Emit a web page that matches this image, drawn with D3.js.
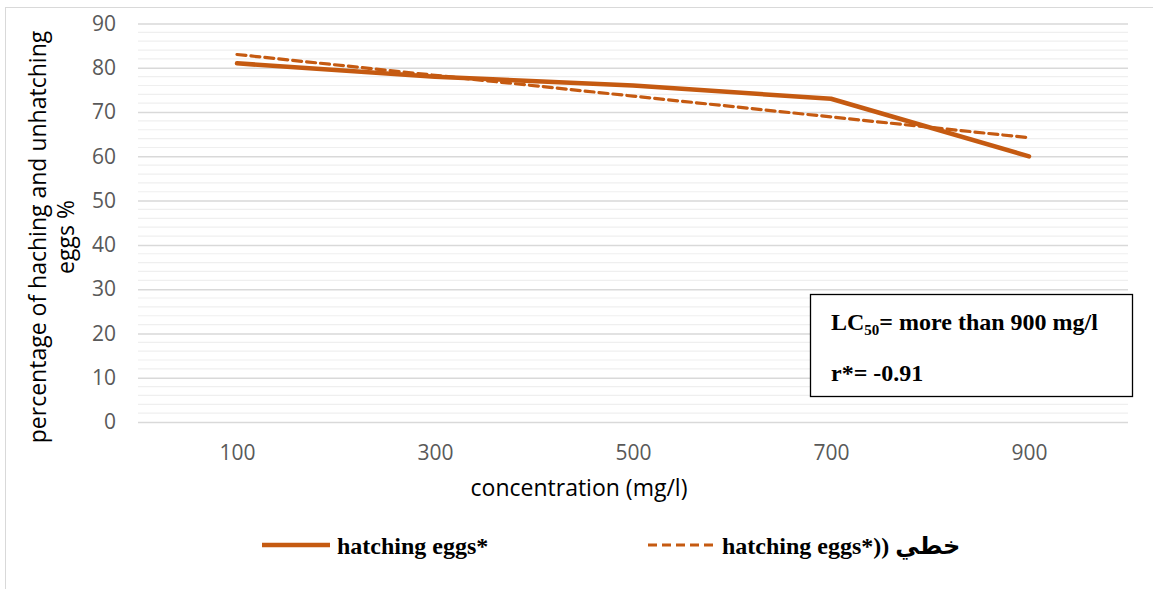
<!DOCTYPE html>
<html>
<head>
<meta charset="utf-8">
<script src="https://cdn.jsdelivr.net/npm/d3@7"></script>
<style>
  html, body { margin: 0; padding: 0; background: #fff; }
  svg { display: block; }
</style>
</head>
<body>
<svg id="chart" width="1153" height="589"></svg>
<script>
// ---- data ----
const categories = ["100", "300", "500", "700", "900"];
const hatchingEggs = [81, 78, 76, 73, 60];
const yTicks = [0, 10, 20, 30, 40, 50, 60, 70, 80, 90];
const seriesNames = ["hatching eggs*", "hatching eggs*)) خطي"];
const annotationLines = ["LC", "50", "= more than 900 mg/l", "r*= -0.91"];

// linear trend line (least squares over category index)
const xs = hatchingEggs.map((d, i) => i + 1);
const mx = d3.mean(xs), my = d3.mean(hatchingEggs);
const slope = d3.sum(xs.map((x, i) => (x - mx) * (hatchingEggs[i] - my))) /
              d3.sum(xs.map(x => (x - mx) * (x - mx)));
const intercept = my - slope * mx;
const trend = xs.map(x => intercept + slope * x);

const color = "#C55A11";
const svg = d3.select("#chart");

// outer border
svg.append("rect").attr("x", 5.5).attr("y", 7.5).attr("width", 1160).attr("height", 600)
  .attr("fill", "none").attr("stroke", "#d9d9d9").attr("stroke-width", 1);

const x = d3.scalePoint().domain(categories).range([138, 1128]).padding(0.5);
const y = d3.scaleLinear().domain([0, 90]).range([422, 23.5]);

// minor gridlines
const minor = d3.range(0, 91, 2).filter(v => v % 10 !== 0);
svg.append("g").selectAll("line").data(minor).join("line")
  .attr("x1", 138).attr("x2", 1128)
  .attr("y1", d => y(d)).attr("y2", d => y(d))
  .attr("stroke", "#efefef").attr("stroke-width", 1.2);

// y axis with major gridlines
const yAxis = d3.axisLeft(y).tickValues(yTicks).tickSize(-990).tickPadding(22);
const gy = svg.append("g").attr("transform", "translate(138,0)").call(yAxis);
gy.select(".domain").remove();
gy.selectAll(".tick line").attr("stroke", "#d9d9d9").attr("stroke-width", 1.5);
gy.selectAll(".tick text").attr("fill", "#595959")
  .style("font-family", "'Open Sans', sans-serif").style("font-size", "21px");

// x axis
const xAxis = d3.axisBottom(x).tickSize(0).tickPadding(23);
const gx = svg.append("g").attr("transform", "translate(0,422)").call(xAxis);
gx.select(".domain").remove();
gx.selectAll(".tick text").attr("fill", "#595959")
  .style("font-family", "'Open Sans', sans-serif").style("font-size", "21px");

// lines
const line = d3.line().x((d, i) => x(categories[i])).y(d => y(d));
svg.append("path").datum(trend).attr("d", line)
  .attr("fill", "none").attr("stroke", color).attr("stroke-width", 3.2)
  .attr("stroke-dasharray", "9,5").attr("stroke-linecap", "round");
svg.append("path").datum(hatchingEggs).attr("d", line)
  .attr("fill", "none").attr("stroke", color).attr("stroke-width", 4.5)
  .attr("stroke-linejoin", "round").attr("stroke-linecap", "round");

// axis titles
svg.append("text").attr("x", 579).attr("y", 496).attr("text-anchor", "middle")
  .style("font-family", "'Open Sans', sans-serif").style("font-size", "23px").attr("fill", "#000")
  .text("concentration (mg/l)");
const yt = svg.append("text").attr("transform", "translate(46,237) rotate(-90)")
  .attr("text-anchor", "middle")
  .style("font-family", "'Open Sans', sans-serif").style("font-size", "23px").attr("fill", "#000");
yt.append("tspan").attr("x", 0).attr("y", 0).text("percentage of haching and unhatching");
yt.append("tspan").attr("x", 0).attr("y", 28).text("eggs %");

// annotation box
svg.append("rect").attr("x", 810.5).attr("y", 294.5).attr("width", 322).attr("height", 102)
  .attr("fill", "#fff").attr("stroke", "#000").attr("stroke-width", 1.3);
const a1 = svg.append("text").attr("x", 831).attr("y", 330)
  .style("font-family", "'Liberation Serif', serif").style("font-weight", "bold")
  .style("font-size", "24px").attr("fill", "#000");
a1.append("tspan").text(annotationLines[0]);
a1.append("tspan").attr("dy", 5).style("font-size", "15px").text(annotationLines[1]);
a1.append("tspan").attr("dy", -5).text(annotationLines[2]);
svg.append("text").attr("x", 831).attr("y", 381)
  .style("font-family", "'Liberation Serif', serif").style("font-weight", "bold")
  .style("font-size", "24px").attr("fill", "#000").text(annotationLines[3]);

// legend
const leg = svg.append("g");
leg.append("line").attr("x1", 262).attr("x2", 330).attr("y1", 545).attr("y2", 545)
  .attr("stroke", color).attr("stroke-width", 4.5);
leg.append("text").attr("x", 337).attr("y", 554)
  .style("font-family", "'Liberation Serif', serif").style("font-weight", "bold")
  .style("font-size", "24px").attr("fill", "#000").text(seriesNames[0]);
leg.append("line").attr("x1", 648).attr("x2", 716).attr("y1", 545).attr("y2", 545)
  .attr("stroke", color).attr("stroke-width", 3).attr("stroke-dasharray", "9,5");
leg.append("text").attr("x", 722).attr("y", 554)
  .style("font-family", "'Liberation Serif', 'DejaVu Sans', serif").style("font-weight", "bold")
  .style("font-size", "24px").attr("fill", "#000").attr("direction", "ltr")
  .style("unicode-bidi", "plaintext").text(seriesNames[1]);
</script>
</body>
</html>
